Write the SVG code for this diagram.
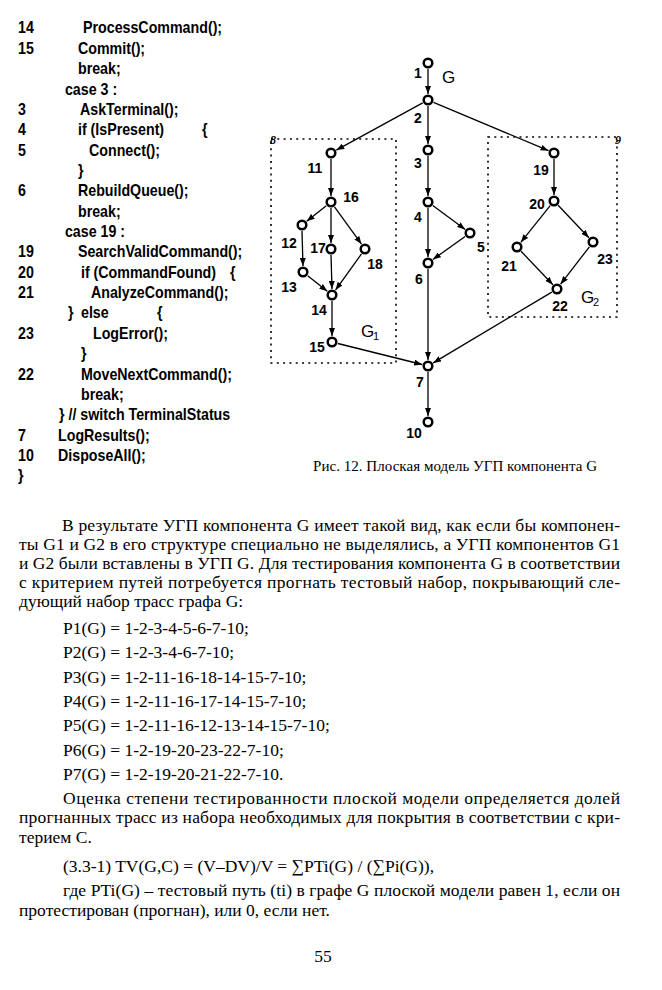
<svg xmlns="http://www.w3.org/2000/svg" width="662" height="990" viewBox="0 0 662 990">
<style>
.code{font-family:"Liberation Sans",Arial,sans-serif;font-weight:bold;font-size:16px;fill:#000}
.lbl{font-family:"Liberation Sans",Arial,sans-serif;font-weight:bold;font-size:14px;fill:#000;text-anchor:middle}
.gname{font-family:"Liberation Sans",Arial,sans-serif;font-size:17px;fill:#000}
.gsub{font-family:"Liberation Sans",Arial,sans-serif;font-size:11px;fill:#000}
.box{fill:none;stroke:#000;stroke-width:1.6;stroke-dasharray:2 4.3}
.boxlbl{font-family:"Liberation Serif","Times New Roman",serif;font-weight:bold;font-style:italic;font-size:12px;fill:#000}
.node circle{fill:#fff;stroke:#000;stroke-width:2.5}
.edge{stroke:#000;stroke-width:1.3;fill:none;marker-end:url(#arr)}
.txt{font-family:"Liberation Serif","Times New Roman",serif;font-size:17.5px;fill:#000}
.cap{font-family:"Liberation Serif","Times New Roman",serif;font-size:15px;fill:#000}
</style>
<defs>
<marker id="arr" markerWidth="8" markerHeight="6" refX="8" refY="3" orient="auto" markerUnits="userSpaceOnUse">
<path d="M0,0 L8,3 L0,6 z" fill="#000"/>
</marker>
</defs>
<rect width="662" height="990" fill="#fff"/>

<!-- code listing -->
<g id="code" transform="scale(0.89 1)">
<text class="code" x="20.2" y="33.5">14</text><text class="code" x="93.3" y="33.5">ProcessCommand();</text>
<text class="code" x="20.2" y="53.9">15</text><text class="code" x="87.6" y="53.9">Commit();</text>
<text class="code" x="87.6" y="74.2">break;</text>
<text class="code" x="73" y="94.6">case 3 :</text>
<text class="code" x="20.2" y="114.9">3</text><text class="code" x="89.9" y="114.9">AskTerminal();</text>
<text class="code" x="20.2" y="135.3">4</text><text class="code" x="87.6" y="135.3">if (IsPresent)</text><text class="code" x="227" y="135.3">{</text>
<text class="code" x="20.2" y="155.7">5</text><text class="code" x="100" y="155.7">Connect();</text>
<text class="code" x="87.6" y="176">}</text>
<text class="code" x="20.2" y="196.4">6</text><text class="code" x="87.6" y="196.4">RebuildQueue();</text>
<text class="code" x="87.6" y="216.7">break;</text>
<text class="code" x="73" y="237.1">case 19 :</text>
<text class="code" x="20.2" y="257.5">19</text><text class="code" x="87.6" y="257.5">SearchValidCommand();</text>
<text class="code" x="20.2" y="277.8">20</text><text class="code" x="91" y="277.8">if (CommandFound)</text><text class="code" x="258.4" y="277.8">{</text>
<text class="code" x="20.2" y="298.2">21</text><text class="code" x="102.2" y="298.2">AnalyzeCommand();</text>
<text class="code" x="76.4" y="318.5">}</text><text class="code" x="91" y="318.5">else</text><text class="code" x="176.4" y="318.5">{</text>
<text class="code" x="20.2" y="338.9">23</text><text class="code" x="104.5" y="338.9">LogError();</text>
<text class="code" x="91" y="359.3">}</text>
<text class="code" x="20.2" y="379.6">22</text><text class="code" x="91" y="379.6">MoveNextCommand();</text>
<text class="code" x="91" y="400">break;</text>
<text class="code" x="66.3" y="420.4">} // switch TerminalStatus</text>
<text class="code" x="20.2" y="440.7">7</text><text class="code" x="65.2" y="440.7">LogResults();</text>
<text class="code" x="20.2" y="461.1">10</text><text class="code" x="65.2" y="461.1">DisposeAll();</text>
<text class="code" x="20.2" y="481.4">}</text>
</g>

<!-- subgraph boxes -->
<g id="G1box">
<rect class="box" x="271" y="139" width="125" height="224"/>
<text class="boxlbl" x="270" y="144">8</text>
<text class="gname" x="361" y="337">G</text><text class="gsub" x="373" y="340">1</text>
</g>
<g id="G2box">
<rect class="box" x="488" y="137" width="129" height="180"/>
<text class="boxlbl" x="615" y="144">9</text>
<text class="gname" x="581" y="303">G</text><text class="gsub" x="593" y="306">2</text>
</g>
<text id="Glabel" class="gname" x="442" y="83">G</text>

<!-- connectors -->
<g id="connectors">
<line class="edge" x1="428" y1="69" x2="428" y2="94"/>
<line class="edge" x1="422.7" y1="102.9" x2="336.3" y2="150.1"/>
<line class="edge" x1="428" y1="106" x2="428" y2="144"/>
<line class="edge" x1="433.5" y1="102.3" x2="548.5" y2="150.7"/>
<line class="edge" x1="428" y1="156" x2="428" y2="196"/>
<line class="edge" x1="432.8" y1="205.6" x2="465.2" y2="229.4"/>
<line class="edge" x1="428" y1="208" x2="428" y2="257"/>
<line class="edge" x1="465.1" y1="236.5" x2="432.9" y2="259.5"/>
<line class="edge" x1="428" y1="269" x2="428" y2="360"/>
<line class="edge" x1="428" y1="372" x2="428" y2="416"/>
<line class="edge" x1="331" y1="159" x2="331" y2="196"/>
<line class="edge" x1="326.3" y1="205.7" x2="306.7" y2="221.3"/>
<line class="edge" x1="331" y1="208" x2="331" y2="243"/>
<line class="edge" x1="334.5" y1="206.9" x2="361.5" y2="244.1"/>
<line class="edge" x1="302" y1="231" x2="303" y2="266"/>
<line class="edge" x1="307.7" y1="275.7" x2="327.3" y2="291.3"/>
<line class="edge" x1="331" y1="255" x2="332" y2="289"/>
<line class="edge" x1="361.5" y1="253.9" x2="335.5" y2="290.1"/>
<line class="edge" x1="332" y1="301" x2="332" y2="336"/>
<line class="edge" x1="337.8" y1="343.5" x2="422.2" y2="364.5"/>
<line class="edge" x1="554" y1="159" x2="554" y2="195"/>
<line class="edge" x1="550.2" y1="205.7" x2="520.8" y2="242.3"/>
<line class="edge" x1="558.1" y1="205.3" x2="588.9" y2="237.7"/>
<line class="edge" x1="521.1" y1="251.3" x2="552.9" y2="284.7"/>
<line class="edge" x1="589.4" y1="246.8" x2="560.6" y2="284.2"/>
<line class="edge" x1="551.8" y1="292.1" x2="433.2" y2="362.9"/>
</g>

<!-- nodes -->
<g id="n1" class="node"><circle cx="428" cy="63" r="4.3"/><text class="lbl" x="418" y="78">1</text></g>
<g id="n2" class="node"><circle cx="428" cy="100" r="4.3"/><text class="lbl" x="418" y="123">2</text></g>
<g id="n3" class="node"><circle cx="428" cy="150" r="4.3"/><text class="lbl" x="418" y="168">3</text></g>
<g id="n4" class="node"><circle cx="428" cy="202" r="4.3"/><text class="lbl" x="418" y="222">4</text></g>
<g id="n5" class="node"><circle cx="470" cy="233" r="4.3"/><text class="lbl" x="481" y="252">5</text></g>
<g id="n6" class="node"><circle cx="428" cy="263" r="4.3"/><text class="lbl" x="419" y="284">6</text></g>
<g id="n7" class="node"><circle cx="428" cy="366" r="4.3"/><text class="lbl" x="420" y="387">7</text></g>
<g id="n10" class="node"><circle cx="428" cy="422" r="4.3"/><text class="lbl" x="414" y="438">10</text></g>
<g id="n11" class="node"><circle cx="331" cy="153" r="4.3"/><text class="lbl" x="315" y="173">11</text></g>
<g id="n16" class="node"><circle cx="331" cy="202" r="4.3"/><text class="lbl" x="351" y="202">16</text></g>
<g id="n12" class="node"><circle cx="302" cy="225" r="4.3"/><text class="lbl" x="289" y="248">12</text></g>
<g id="n17" class="node"><circle cx="331" cy="249" r="4.3"/><text class="lbl" x="318" y="253">17</text></g>
<g id="n18" class="node"><circle cx="365" cy="249" r="4.3"/><text class="lbl" x="375" y="269">18</text></g>
<g id="n13" class="node"><circle cx="303" cy="272" r="4.3"/><text class="lbl" x="289" y="292">13</text></g>
<g id="n14" class="node"><circle cx="332" cy="295" r="4.3"/><text class="lbl" x="319" y="315">14</text></g>
<g id="n15" class="node"><circle cx="332" cy="342" r="4.3"/><text class="lbl" x="317" y="352">15</text></g>
<g id="n19" class="node"><circle cx="554" cy="153" r="4.3"/><text class="lbl" x="541" y="175">19</text></g>
<g id="n20" class="node"><circle cx="554" cy="201" r="4.3"/><text class="lbl" x="537" y="209">20</text></g>
<g id="n21" class="node"><circle cx="517" cy="247" r="4.3"/><text class="lbl" x="509" y="271">21</text></g>
<g id="n23" class="node"><circle cx="593" cy="242" r="4.3"/><text class="lbl" x="605" y="264">23</text></g>
<g id="n22" class="node"><circle cx="557" cy="289" r="4.3"/><text class="lbl" x="560" y="311">22</text></g>

<text id="caption" class="cap" x="313" y="471" textLength="284" lengthAdjust="spacing">Рис. 12. Плоская модель УГП компонента G</text>

<!-- body text -->
<g id="body">
<text class="txt" x="62" y="531" textLength="558" lengthAdjust="spacing">В результате УГП компонента G имеет такой вид, как если бы компонен-</text>
<text class="txt" x="19" y="550" textLength="601" lengthAdjust="spacing">ты G1 и G2 в его структуре специально не выделялись, а УГП компонентов G1</text>
<text class="txt" x="19" y="569" textLength="601" lengthAdjust="spacing">и G2 были вставлены в УГП G. Для тестирования компонента G в соответствии</text>
<text class="txt" x="19" y="588" textLength="601" lengthAdjust="spacing">с критерием путей потребуется прогнать тестовый набор, покрывающий сле-</text>
<text class="txt" x="19" y="607">дующий набор трасс графа G:</text>
<text class="txt" x="63" y="634">P1(G) = 1-2-3-4-5-6-7-10;</text>
<text class="txt" x="63" y="658">P2(G) = 1-2-3-4-6-7-10;</text>
<text class="txt" x="63" y="683">P3(G) = 1-2-11-16-18-14-15-7-10;</text>
<text class="txt" x="63" y="707">P4(G) = 1-2-11-16-17-14-15-7-10;</text>
<text class="txt" x="63" y="731">P5(G) = 1-2-11-16-12-13-14-15-7-10;</text>
<text class="txt" x="63" y="756">P6(G) = 1-2-19-20-23-22-7-10;</text>
<text class="txt" x="63" y="780">P7(G) = 1-2-19-20-21-22-7-10.</text>
<text class="txt" x="63" y="804" textLength="557" lengthAdjust="spacing">Оценка степени тестированности плоской модели определяется долей</text>
<text class="txt" x="19" y="823" textLength="601" lengthAdjust="spacing">прогнанных трасс из набора необходимых для покрытия в соответствии с кри-</text>
<text class="txt" x="19" y="843">терием С.</text>
<text class="txt" x="63" y="872">(3.3-1) TV(G,C) = (V–DV)/V = ∑PTi(G) / (∑Pi(G)),</text>
<text class="txt" x="63" y="896" textLength="557" lengthAdjust="spacing">где PTi(G) – тестовый путь (ti) в графе G плоской модели равен 1, если он</text>
<text class="txt" x="19" y="916">протестирован (прогнан), или 0, если нет.</text>
<text class="txt" x="323" y="962" text-anchor="middle">55</text>
</g>
</svg>
